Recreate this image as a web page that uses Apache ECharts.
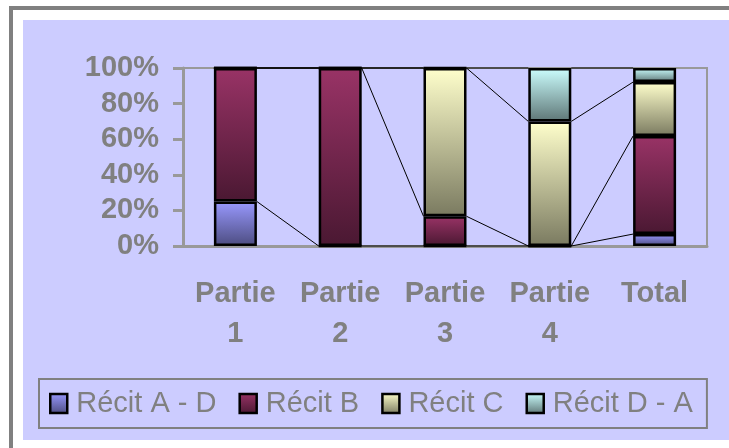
<!DOCTYPE html>
<html>
<head>
<meta charset="utf-8">
<script src="https://cdn.jsdelivr.net/npm/echarts@6/dist/echarts.min.js"></script>
<style>
  body { margin: 0; background: #fff; }
  #chart { width: 729px; height: 448px; }
</style>
</head>
<body>
<div id="chart"></div>
<script>
// categories and percentages
var categories = ['Partie 1', 'Partie 2', 'Partie 3', 'Partie 4', 'Total'];
var seriesNames = ['Récit A - D', 'Récit B', 'Récit C', 'Récit D - A'];
var recitAD = [25, 0, 0, 0, 6.7];
var recitB = [75, 100, 16.7, 0, 55.1];
var recitC = [0, 0, 83.3, 70, 30.3];
var recitDA = [0, 0, 0, 30, 7.9];
var yTicks = [0, 20, 40, 60, 80, 100];

var font = 'Liberation Sans, Arial, sans-serif';
var grey = '#808080';
var axisGrey = '#999999';
var barWidth = 43;

var grad = function(top, bottom) {
    return new echarts.graphic.LinearGradient(0, 0, 0, 1, [
        { offset: 0, color: top },
        { offset: 1, color: bottom }
    ]);
};
var colors = [
    grad('#9999FF', '#4C4C80'),
    grad('#993366', '#4A1832'),
    grad('#FFFFCC', '#7A7A60'),
    grad('#CCFFFF', '#5E7676')
];
var values = [recitAD, recitB, recitC, recitDA];

// cumulative tops of each stacked segment, used for the series lines
var cum = values.map(function(v, s) {
    return categories.map(function(c, i) {
        var t = 0;
        for (var k = 0; k <= s; k++) t += values[k][i];
        return t;
    });
});

var chart = echarts.init(document.getElementById('chart'), null, { renderer: 'canvas' });

var series = values.map(function(v, s) {
    return {
        name: seriesNames[s],
        type: 'bar',
        stack: 'all',
        barWidth: barWidth,
        data: v,
        z: 3,
        itemStyle: { color: colors[s], borderColor: '#000', borderWidth: 2.5 }
    };
});

series.push({
    type: 'custom',
    name: 'lines',
    z: 2,
    data: categories.slice(0, -1).map(function(c, i) { return [i, 0]; }),
    encode: { x: 0, y: 1 },
    renderItem: function(params, api) {
        var i = api.value(0);
        var half = barWidth / 2;
        var children = [];
        for (var s = 0; s < cum.length; s++) {
            var a = api.coord([i, cum[s][i]]);
            var b = api.coord([i + 1, cum[s][i + 1]]);
            children.push({
                type: 'line',
                shape: { x1: a[0] + half, y1: a[1], x2: b[0] - half, y2: b[1] },
                style: { stroke: '#000', lineWidth: 1 }
            });
        }
        return { type: 'group', children: children };
    }
});

var option = {
    backgroundColor: '#fff',
    animation: false,
    graphic: [
        { type: 'rect', shape: { x: 9, y: 6, width: 4, height: 442 }, style: { fill: grey } },
        { type: 'rect', shape: { x: 9, y: 6, width: 720, height: 4 }, style: { fill: grey } },
        { type: 'rect', z: -1, shape: { x: 23, y: 20, width: 706, height: 420 }, style: { fill: '#CCCCFF' } }
    ],
    grid: {
        left: 183, top: 68, right: 22, bottom: 202,
        show: true, borderColor: axisGrey, borderWidth: 2
    },
    legend: {
        data: seriesNames,
        left: 39,
        top: 379,
        icon: 'rect',
        itemWidth: 17,
        itemHeight: 19,
        itemGap: 22,
        padding: [10, 14, 10, 10],
        borderColor: grey,
        borderWidth: 2,
        itemStyle: { borderColor: '#000', borderWidth: 2.5 },
        textStyle: { color: grey, fontSize: 29, fontFamily: font, padding: [0, 0, 0, 4] }
    },
    xAxis: {
        type: 'category',
        data: categories,
        axisLine: { lineStyle: { color: axisGrey, width: 3 } },
        axisTick: { length: 10, lineStyle: { color: axisGrey, width: 3 } },
        axisLabel: {
            interval: 0,
            margin: 28,
            color: grey,
            fontSize: 29,
            fontWeight: 'bold',
            fontFamily: font,
            lineHeight: 40,
            formatter: function(v) { return v.replace(' ', '\n'); }
        }
    },
    yAxis: {
        type: 'value',
        min: yTicks[0],
        max: yTicks[yTicks.length - 1],
        interval: yTicks[1] - yTicks[0],
        splitLine: { show: false },
        axisLine: { show: true, lineStyle: { color: axisGrey, width: 3 } },
        axisTick: { show: true, length: 10, lineStyle: { color: axisGrey, width: 3 } },
        axisLabel: {
            margin: 24,
            color: grey,
            fontSize: 29,
            fontWeight: 'bold',
            fontFamily: font,
            formatter: '{value}%'
        }
    },
    series: series
};

chart.setOption(option);
</script>
</body>
</html>
